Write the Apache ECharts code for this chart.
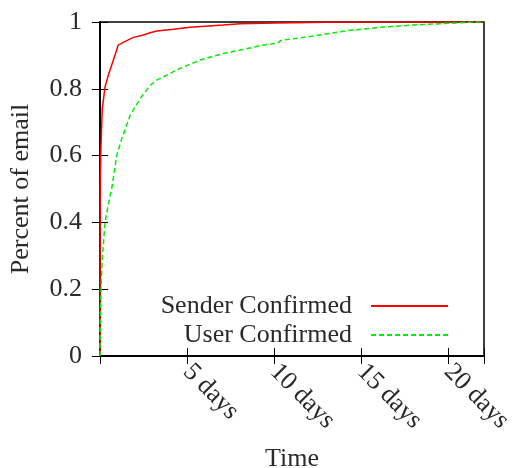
<!DOCTYPE html>
<html>
<head>
<meta charset="utf-8">
<script src="https://cdn.jsdelivr.net/npm/echarts@6/dist/echarts.min.js"></script>
<style>
  html, body { margin: 0; padding: 0; background: #fff; }
  #chart { width: 513px; height: 468px; }
</style>
</head>
<body>
<div id="chart"></div>
<script>
// CDF of delivery time (days) -> fraction of email
var senderTime = [0, 0.005, 0.01, 0.02, 0.05, 0.13, 0.29, 0.48, 0.77, 1.05, 1.34, 1.92, 2.49, 2.88, 3.26, 4.22, 5.18, 7.08, 8.06, 10, 13, 16, 22.07];
var senderPct  = [0, 0.3, 0.45, 0.55, 0.62, 0.74, 0.806, 0.841, 0.886, 0.931, 0.939, 0.954, 0.961, 0.968, 0.973, 0.978, 0.984, 0.991, 0.995, 0.997, 0.999, 1.0, 1.0];
var userTime = [0, 0.02, 0.06, 0.13, 0.29, 0.5, 0.67, 0.96, 1.25, 1.73, 2.3, 2.88, 3.26, 3.84, 4.6, 5.75, 7.1, 8.06, 9.4, 10.2, 10.4, 11, 12.3, 14.2, 16.1, 18, 20, 21.5, 22.07];
var userPct  = [0, 0.1, 0.2, 0.29, 0.4, 0.46, 0.5, 0.6, 0.65, 0.72, 0.77, 0.81, 0.826, 0.841, 0.861, 0.886, 0.906, 0.916, 0.931, 0.937, 0.945, 0.949, 0.958, 0.974, 0.984, 0.991, 0.996, 1.0, 1.0];
var xTicks = [5, 10, 15, 20];
var seriesNames = ['Sender Confirmed', 'User Confirmed'];

function pairs(xs, ys) {
    var out = [];
    for (var i = 0; i < xs.length; i++) {
        out.push([xs[i], ys[i]]);
    }
    return out;
}

var font = 'Liberation Serif';
var textColor = '#2a2a2a';

//legend: one per row so the texts stay right aligned, line sample on the right
function makeLegend(name, top) {
    return {
        data: [name],
        right: 59, top: top,
        align: 'right',
        itemWidth: 77, itemHeight: 14,
        itemStyle: { opacity: 0 },
        textStyle: { fontFamily: font, fontSize: 26, color: textColor, padding: [0, 14, 0, 0] }
    };
}

var myChart = echarts.init(document.getElementById('chart'));
var option = {
    animation: false,
    grid: {
        left: 100, right: 29, top: 22, bottom: 112,
        outerBoundsMode: 'none',
        containLabel: false,
        show: true, borderColor: '#000', borderWidth: 1.5
    },
    legend: [makeLegend(seriesNames[0], 288), makeLegend(seriesNames[1], 317)],
    xAxis: [{
        type: 'value',
        min: 0, max: 22.07, interval: 5,
        name: 'Time',
        nameLocation: 'middle',
        nameGap: 90,
        nameTextStyle: { fontFamily: font, fontSize: 26, color: textColor },
        axisLine: { lineStyle: { color: '#000', width: 1.5 } },
        axisTick: { inside: true, length: 8, lineStyle: { color: '#000' } },
        splitLine: { show: false },
        axisLabel: {
            rotate: -45,
            margin: 12,
            fontFamily: font, fontSize: 26, color: textColor,
            formatter: function (v) {
                return xTicks.indexOf(v) >= 0 ? v + ' days' : '';
            }
        }
    }, {
        type: 'value', position: 'top',
        min: 0, max: 22.07, interval: 5,
        axisLine: { lineStyle: { color: '#000', width: 1.5 } },
        axisTick: { inside: true, length: 8, lineStyle: { color: '#000' } },
        axisLabel: { show: false },
        splitLine: { show: false }
    }],
    yAxis: [{
        type: 'value',
        min: 0, max: 1, interval: 0.2,
        name: 'Percent of email',
        nameLocation: 'middle',
        nameGap: 66,
        nameTextStyle: { fontFamily: font, fontSize: 26, color: textColor },
        axisLine: { show: true, lineStyle: { color: '#000', width: 1.5 } },
        axisTick: { show: true, inside: true, length: 8, lineStyle: { color: '#000' } },
        splitLine: { show: false },
        axisLabel: {
            margin: 18,
            fontFamily: font, fontSize: 26, color: textColor,
            formatter: function (v) { return String(Math.round(v * 10) / 10); }
        }
    }, {
        type: 'value', position: 'right',
        min: 0, max: 1, interval: 0.2,
        axisLine: { show: true, lineStyle: { color: '#000', width: 1.5 } },
        axisTick: { show: true, inside: true, length: 8, lineStyle: { color: '#000' } },
        axisLabel: { show: false },
        splitLine: { show: false }
    }],
    series: [{
        name: seriesNames[0],
        type: 'line',
        symbol: 'none',
        data: pairs(senderTime, senderPct),
        lineStyle: { color: '#ff0000', width: 1.5 },
        itemStyle: { color: '#ff0000' }
    }, {
        name: seriesNames[1],
        type: 'line',
        symbol: 'none',
        data: pairs(userTime, userPct),
        lineStyle: { color: '#00ee00', width: 1.5, type: [5, 3] },
        itemStyle: { color: '#00ee00' }
    }]
};
myChart.setOption(option);
</script>
</body>
</html>
